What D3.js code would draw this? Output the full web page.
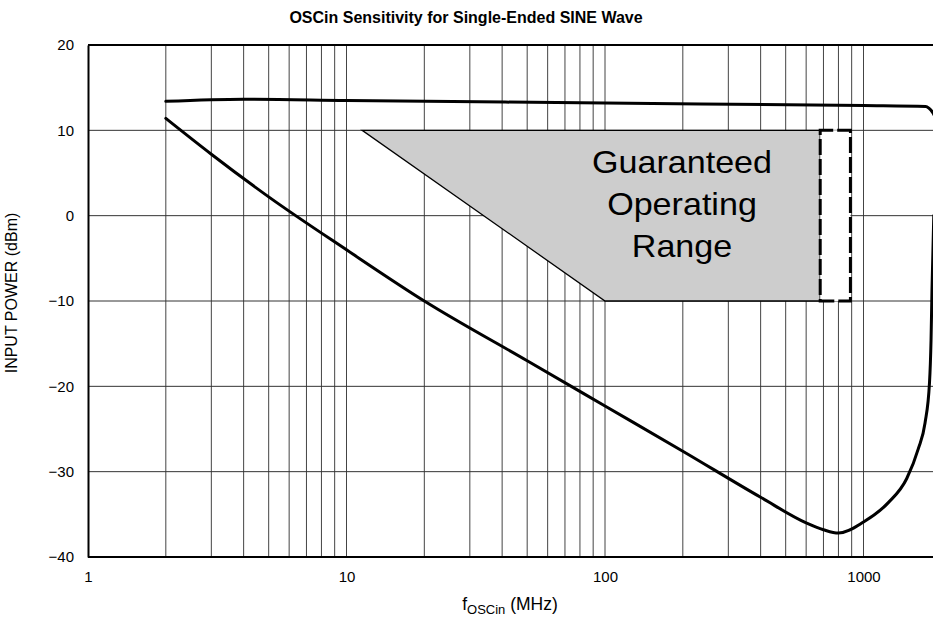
<!DOCTYPE html>
<html>
<head>
<meta charset="utf-8">
<script src="https://cdn.jsdelivr.net/npm/d3@7"></script>
<style>
  html, body { margin: 0; padding: 0; background: #fff; }
  svg { display: block; font-family: Arial, "Liberation Sans", sans-serif; }
</style>
</head>
<body>
<svg id="chart" width="933" height="621"></svg>
<script>
// ---- data ----
const title = "OSCin Sensitivity for Single-Ended SINE Wave";
const xTickValues = [1, 10, 100, 1000];
const yTickValues = [20, 10, 0, -10, -20, -30, -40];

const upperFreq = [2, 4, 10, 100, 1000, 1740, 1790, 1860, 1950];
const upperPower = [13.4, 13.65, 13.5, 13.2, 12.9, 12.8, 12.6, 12.0, 10.5];

const lowerFreq = [2, 3, 5, 10, 20, 50, 100, 200, 400, 600, 700, 800, 1000, 1250, 1470, 1630, 1730, 1800, 1825, 1840, 1870];
const lowerPower = [11.4, 7.2, 2.2, -4.0, -10.0, -17.0, -22.3, -27.6, -33.0, -36.0, -36.8, -37.2, -35.9, -33.6, -30.8, -27.3, -24.3, -19.6, -14.6, -8.9, 0];

const rangeFreq = [11.5, 680, 680, 100];
const rangePower = [10, 10, -10, -10];
const boxFreq = [680, 890];
const boxPower = [10, -10];
const rangeLabel = ["Guaranteed", "Operating", "Range"];

(function () {
// ---- layout ----
const W = 933, H = 621;
const mLeft = 88, mTop = 45, mBottom = 557;
const decade = 258.5;
const xMax = 2000;

const svg = d3.select("#chart");
svg.append("rect").attr("width", W).attr("height", H).attr("fill", "#fff");

const x = d3.scaleLog().domain([1, xMax]).range([mLeft, mLeft + decade * Math.log10(xMax)]);
const y = d3.scaleLinear().domain([-40, 20]).range([mBottom, mTop]);

svg.append("defs").append("clipPath").attr("id", "clip")
  .append("rect").attr("x", mLeft).attr("y", mTop - 2).attr("width", W - mLeft).attr("height", mBottom - mTop + 4);

const plot = svg.append("g").attr("clip-path", "url(#clip)");

// grid
const vTicks = x.ticks().filter(d => d > 1 && d < xMax);
plot.append("g").selectAll("line").data(vTicks).join("line")
  .attr("x1", d => x(d)).attr("x2", d => x(d))
  .attr("y1", mTop).attr("y2", mBottom)
  .attr("stroke", "#444").attr("stroke-width", 1);
plot.append("g").selectAll("line").data(yTickValues.filter(v => v > -40 && v < 20)).join("line")
  .attr("x1", mLeft).attr("x2", W + 10)
  .attr("y1", d => y(d)).attr("y2", d => y(d))
  .attr("stroke", "#333").attr("stroke-width", 1);

// guaranteed operating range
const rangePts = rangeFreq.map((f, i) => [x(f), y(rangePower[i])]);
plot.append("path")
  .attr("d", d3.line()(rangePts) + "Z")
  .attr("fill", "#cdcdcd").attr("stroke", "#000").attr("stroke-width", 1.3);

plot.append("rect")
  .attr("x", x(boxFreq[0])).attr("y", y(boxPower[0]))
  .attr("width", x(boxFreq[1]) - x(boxFreq[0]))
  .attr("height", y(boxPower[1]) - y(boxPower[0]))
  .attr("fill", "#fff").attr("stroke", "#000").attr("stroke-width", 3)
  .attr("stroke-dasharray", "16,4").attr("stroke-dashoffset", 3);

const lbl = svg.append("g").attr("transform", `translate(${682},0)`);
rangeLabel.forEach((t, i) => {
  lbl.append("text")
    .attr("transform", `translate(0,${173 + i * 42}) scale(1.1,1)`)
    .attr("text-anchor", "middle")
    .attr("font-size", 31).attr("fill", "#000")
    .text(t);
});

// curves
const line = d3.line().x(d => x(d[0])).y(d => y(d[1])).curve(d3.curveMonotoneX);
plot.append("path")
  .attr("d", line(upperFreq.map((f, i) => [f, upperPower[i]])))
  .attr("fill", "none").attr("stroke", "#000").attr("stroke-width", 3).attr("stroke-linecap", "round");
plot.append("path")
  .attr("d", line(lowerFreq.map((f, i) => [f, lowerPower[i]])))
  .attr("fill", "none").attr("stroke", "#000").attr("stroke-width", 3).attr("stroke-linecap", "round");

// frame
svg.append("line").attr("x1", mLeft).attr("x2", W).attr("y1", mTop).attr("y2", mTop).attr("stroke", "#000").attr("stroke-width", 2);
svg.append("line").attr("x1", mLeft).attr("x2", W).attr("y1", mBottom).attr("y2", mBottom).attr("stroke", "#000").attr("stroke-width", 2);

// axes
const yAxis = d3.axisLeft(y).tickValues(yTickValues).tickSize(0).tickPadding(14).tickFormat(d3.format("d"));
const gy = svg.append("g").attr("transform", `translate(${mLeft},0)`).call(yAxis);
gy.select(".domain").attr("stroke", "#000").attr("stroke-width", 2);
gy.selectAll("text").attr("font-size", 15).attr("font-family", "Arial, 'Liberation Sans', sans-serif").attr("fill", "#000");

const xAxis = d3.axisBottom(x).tickValues(xTickValues).tickSize(0).tickPadding(14).tickFormat(d3.format("d"));
const gx = svg.append("g").attr("transform", `translate(0,${mBottom})`).call(xAxis);
gx.select(".domain").remove();
gx.selectAll("text").attr("font-size", 15).attr("font-family", "Arial, 'Liberation Sans', sans-serif").attr("fill", "#000");

// title
svg.append("text").attr("x", 466).attr("y", 23).attr("text-anchor", "middle")
  .attr("font-size", 16).attr("font-weight", "bold").text(title);

// axis titles
const xt = svg.append("text").attr("x", 510).attr("y", 610).attr("text-anchor", "middle").attr("font-size", 17.5);
xt.append("tspan").text("f");
xt.append("tspan").attr("font-size", 13).attr("dy", 4).text("OSCin");
xt.append("tspan").attr("dy", -4).text(" (MHz)");

svg.append("text").attr("transform", "translate(17,293) rotate(-90)")
  .attr("text-anchor", "middle").attr("font-size", 16).text("INPUT POWER (dBm)");
})();
</script>
</body>
</html>
